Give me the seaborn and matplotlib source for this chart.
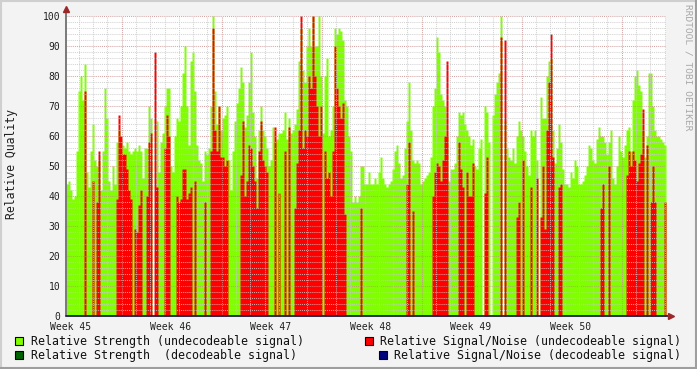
import numpy as np
import pandas as pd
import matplotlib.pyplot as plt
from matplotlib.patches import Rectangle
from matplotlib.lines import Line2D
import seaborn as sns

# relative strength of undecodeable signal, one sample every ~3.4 h
strength_w45 = [44, 45, 42, 39, 40, 55, 75, 80, 72, 84, 48, 43, 55, 64, 52, 50, 52, 42, 55, 76,
                66, 45, 42, 50, 44, 58, 62, 59, 57, 56, 58, 55, 54, 55, 56, 55, 57, 55, 46, 56,
                56, 70, 66, 0, 0, 65, 48, 58, 61, 70]
strength_w46 = [76, 76, 50, 48, 60, 66, 65, 70, 81, 90, 70, 57, 85, 88, 75, 57, 52, 51, 45, 55,
                54, 56, 70, 100, 75, 64, 70, 62, 66, 67, 70, 52, 42, 55, 65, 71, 76, 83, 78, 63,
                67, 78, 88, 68, 60, 46, 62, 70, 62, 60]
strength_w47 = [56, 50, 52, 63, 58, 59, 61, 61, 62, 68, 59, 66, 61, 62, 64, 69, 85, 96, 82, 78,
                90, 96, 90, 100, 90, 90, 100, 80, 61, 80, 86, 60, 62, 70, 96, 94, 96, 95, 92, 72,
                70, 60, 55, 38, 40, 38, 40, 50, 50, 44]
strength_w48 = [44, 48, 44, 44, 46, 44, 48, 53, 46, 44, 43, 44, 45, 49, 55, 57, 51, 46, 47, 56,
                65, 78, 62, 52, 51, 52, 51, 44, 45, 46, 47, 48, 53, 70, 76, 93, 88, 74, 72, 70,
                60, 45, 49, 49, 51, 60, 68, 67, 68, 64]
strength_w49 = [62, 60, 57, 59, 50, 49, 56, 59, 0, 70, 68, 58, 0, 67, 74, 78, 81, 100, 0, 65,
                56, 53, 52, 56, 51, 60, 65, 62, 60, 55, 50, 47, 62, 60, 62, 52, 0, 73, 66, 66,
                80, 85, 86, 62, 51, 56, 64, 58, 49, 44]
strength_w50 = [44, 43, 48, 46, 52, 50, 44, 44, 45, 47, 50, 57, 56, 52, 51, 59, 63, 60, 60, 58,
                54, 58, 62, 46, 44, 50, 60, 55, 53, 57, 62, 63, 55, 72, 80, 82, 77, 75, 62, 53,
                60, 81, 81, 70, 62, 60, 60, 59, 58, 57]

# relative signal/noise of undecodeable signal (0 = nothing drawn)
snr_w45 = [0, 0, 0, 0, 0, 0, 0, 0, 0, 75, 0, 0, 0, 45, 0, 38, 55, 0, 0, 0,
           0, 0, 0, 0, 0, 39, 67, 60, 54, 54, 49, 42, 39, 0, 29, 28, 37, 42, 0, 0,
           40, 58, 61, 0, 88, 43, 0, 0, 0, 56]
snr_w46 = [67, 60, 0, 0, 0, 40, 38, 39, 49, 49, 39, 41, 43, 0, 45, 0, 0, 0, 0, 38,
           0, 0, 55, 96, 62, 55, 70, 53, 53, 50, 52, 0, 0, 0, 0, 0, 0, 47, 65, 40,
           45, 57, 56, 50, 45, 36, 55, 65, 52, 50]
snr_w47 = [48, 0, 0, 0, 63, 0, 41, 0, 0, 55, 0, 63, 0, 0, 36, 51, 62, 100, 56, 62,
           60, 80, 76, 100, 80, 70, 60, 70, 0, 55, 46, 48, 40, 55, 90, 76, 70, 66, 71, 34,
           0, 0, 0, 0, 0, 0, 0, 36, 0, 0]
snr_w48 = [0, 0, 0, 0, 0, 0, 0, 0, 0, 0, 0, 0, 0, 0, 0, 0, 0, 0, 0, 0,
           44, 58, 0, 35, 0, 0, 0, 0, 0, 0, 0, 0, 0, 40, 48, 51, 50, 45, 52, 60,
           85, 0, 0, 0, 0, 0, 58, 49, 43, 0]
snr_w49 = [48, 40, 40, 51, 0, 0, 0, 0, 0, 41, 53, 0, 0, 0, 0, 0, 0, 93, 0, 92,
           0, 0, 0, 0, 0, 33, 38, 0, 52, 0, 0, 0, 43, 0, 0, 46, 0, 33, 50, 29,
           62, 78, 94, 53, 0, 0, 43, 44, 0, 0]
snr_w50 = [0, 0, 0, 0, 0, 0, 0, 0, 0, 0, 0, 0, 0, 0, 0, 0, 0, 36, 44, 0,
           0, 50, 0, 0, 0, 0, 0, 0, 0, 0, 47, 55, 50, 55, 52, 45, 51, 54, 69, 0,
           57, 0, 38, 50, 38, 0, 0, 0, 0, 38]

week_labels = ["Week 45", "Week 46", "Week 47", "Week 48", "Week 49", "Week 50"]
legend_labels = ["Relative Strength (undecodeable signal)",
                 "Relative Signal/Noise (undecodeable signal)",
                 "Relative Strength  (decodeable signal)",
                 "Relative Signal/Noise (decodeable signal)"]

strength = np.concatenate([strength_w45, strength_w46, strength_w47,
                           strength_w48, strength_w49, strength_w50])
snr = np.concatenate([snr_w45, snr_w46, snr_w47, snr_w48, snr_w49, snr_w50])

n_days = 7 * len(week_labels)
step = n_days / len(strength)
df = pd.DataFrame({
    "day": (np.arange(len(strength)) + 0.5) * step,
    "strength": strength.astype(float),
    "snr": snr.astype(float),
})

sns.set_theme(style="white")
plt.rcParams["font.family"] = ["DejaVu Sans Mono"]

W, H = 697, 369
fig = plt.figure(figsize=(W / 100, H / 100), dpi=100, facecolor="#F3F3F3")
ax = fig.add_axes([66 / W, 1 - 316 / H, 600 / W, 300 / H])
ax.set_facecolor("white")

sns.histplot(data=df, x="day", weights="strength", binwidth=step, binrange=(0, n_days),
             element="step", fill=True, color="#80FF00", alpha=1, linewidth=0, ax=ax)
sns.histplot(data=df, x="day", weights="snr", binwidth=step, binrange=(0, n_days),
             element="step", fill=True, color="#FF0000", alpha=1, linewidth=0, ax=ax)

# grid on top, rrdtool style
dots = (0, (1, 1))
for v in range(2, 101, 2):
    major = v % 10 == 0
    ax.axhline(v, color="#C89090" if major else "#C8C8C8", lw=0.75, ls=dots,
               alpha=0.8, zorder=3)
for d in np.arange(0.9, n_days, 1.0):
    k = (d - 3.9) / 7
    major = abs(k - round(k)) < 1e-6
    ax.axvline(d, color="#C89090" if major else "#C8C8C8", lw=0.75, ls=dots,
               alpha=0.8, zorder=3)

ax.set_xlim(0, n_days)
ax.set_ylim(0, 100)
for s in ax.spines.values():
    s.set_visible(False)

ax.set_yticks(range(0, 101, 10))
ax.set_yticklabels([str(v) for v in range(0, 101, 10)])
ax.set_xticks([0.35 + 7 * k for k in range(len(week_labels))])
ax.set_xticklabels(week_labels)
ax.set_xticks(np.arange(3.9, n_days, 7), minor=True)
ax.tick_params(axis="both", which="major", length=0, labelsize=7, colors="#202020")
ax.tick_params(axis="y", pad=4)
ax.tick_params(axis="x", pad=4)
ax.tick_params(axis="x", which="minor", length=2, width=1, color="#C04040", direction="out")
ax.set_xlabel("")
ax.set_ylabel("")

# axes with arrows
ax.plot([0, 0], [0, 101.5], color="#707070", lw=1.3, clip_on=False, zorder=5)
ax.plot([0, 42.2], [0, 0], color="#202050", lw=1.3, clip_on=False, zorder=5)
ax.plot([0], [102.3], marker="^", ms=4, color="#9A2828", clip_on=False, zorder=6)
ax.plot([42.35], [0], marker=">", ms=4, color="#9A2828", clip_on=False, zorder=6)

fig.text(12 / W, 1 - 164 / H, "Relative Quality", rotation=90, ha="center",
         va="center", fontsize=8.3, color="#202020")
fig.text(688 / W, 1 - 4 / H, "RRDTOOL / TOBI OETIKER", rotation=270, ha="center",
         va="top", fontsize=6.8, color="#A8A8A8")

# legend
legend_colors = ["#80FF00", "#FF0000", "#006400", "#000080"]
legend_pos = [(15, 337, 30.5), (365, 337, 380.5), (15, 351, 30.5), (379, 351, 394.5)]
for lab, col, (bx, by, tx) in zip(legend_labels, legend_colors, legend_pos):
    fig.add_artist(Rectangle((bx / W, 1 - (by + 8) / H), 8 / W, 8 / H,
                             transform=fig.transFigure, facecolor=col,
                             edgecolor="black", lw=0.8))
    fig.text(tx / W, 1 - (by + 4.5) / H, lab, ha="left", va="center",
             fontsize=8.4, color="#101010")

# frame
fig.add_artist(Line2D([0, 1], [1 - 1 / H, 1 - 1 / H], transform=fig.transFigure, color="#CFCFCF", lw=1.5))
fig.add_artist(Line2D([1 / W, 1 / W], [0, 1], transform=fig.transFigure, color="#CFCFCF", lw=1.5))
fig.add_artist(Line2D([0, 1], [1 / H, 1 / H], transform=fig.transFigure, color="#9E9E9E", lw=1.5))
fig.add_artist(Line2D([1 - 1 / W, 1 - 1 / W], [0, 1], transform=fig.transFigure, color="#9E9E9E", lw=1.5))

fig.savefig("out.png", dpi=100, facecolor=fig.get_facecolor())
